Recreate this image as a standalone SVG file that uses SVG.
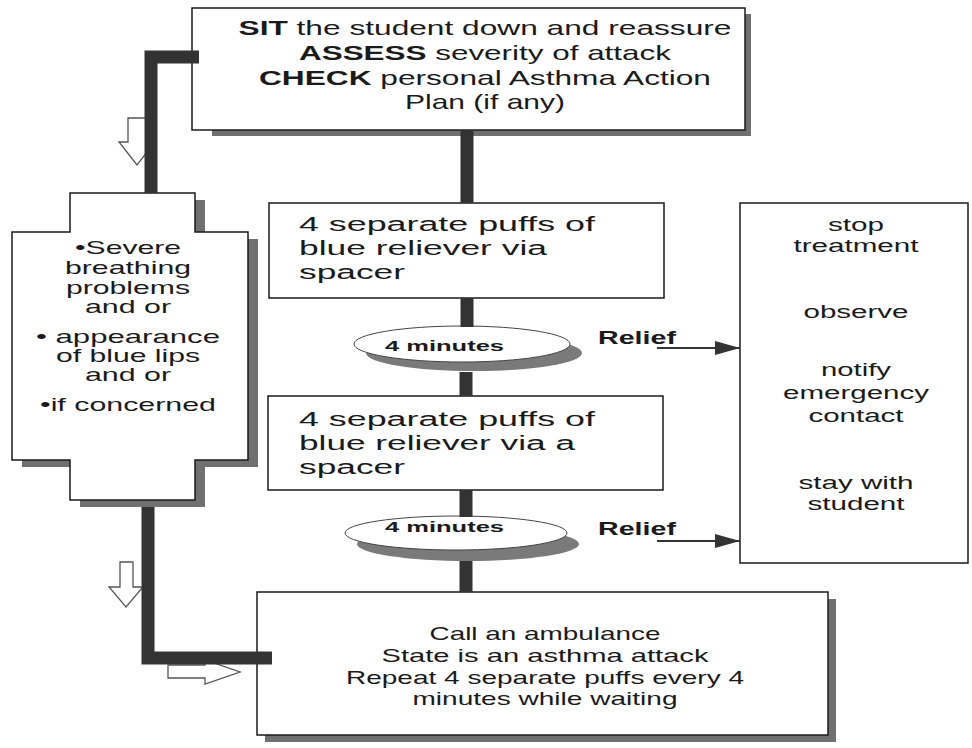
<svg xmlns="http://www.w3.org/2000/svg" width="972" height="748" viewBox="0 0 972 748">
<defs>
<style>
.box{fill:#fff;stroke:#1a1a1a;stroke-width:1.5}
.shadow{fill:#707070}
.t{font-family:"Liberation Sans",Arial,sans-serif;fill:#1a1a1a}
.c{text-anchor:middle}
.b{font-weight:bold}
.bar{fill:none;stroke:#333;stroke-width:13}
.hollow{fill:#fff;stroke:#555;stroke-width:1.3}
.relief{stroke:#333;stroke-width:2;fill:none}
.oval{fill:#fff;stroke:#444;stroke-width:1}
.oshadow{fill:#7a7a7a}
</style>
<marker id="ah" markerUnits="userSpaceOnUse" markerWidth="26" markerHeight="16" refX="25" refY="8" orient="auto">
<path d="M0,1 L25,8 L0,15 Z" fill="#333"/>
</marker>
</defs>
<rect width="972" height="748" fill="#fff"/>

<g id="start">
<rect class="shadow" x="212" y="14" width="539" height="122"/>
<rect class="box" x="192" y="8" width="553" height="122"/>
<text class="t c" x="485" y="35" font-size="21" textLength="493" lengthAdjust="spacingAndGlyphs"><tspan class="b">SIT</tspan> the student down and reassure</text>
<text class="t c" x="485" y="60" font-size="21" textLength="372" lengthAdjust="spacingAndGlyphs"><tspan class="b">ASSESS</tspan> severity of attack</text>
<text class="t c" x="485" y="85" font-size="21" textLength="452" lengthAdjust="spacingAndGlyphs"><tspan class="b">CHECK</tspan> personal Asthma Action</text>
<text class="t c" x="485" y="109" font-size="21" textLength="160" lengthAdjust="spacingAndGlyphs">Plan (if any)</text>
</g>

<g id="severe">
<path class="shadow" d="M80 200 H205 V239 H258 V467 H205 V507 H80 V467 H22 V239 H80 Z"/>
<path class="box" d="M70 193 H195 V232 H248 V460 H195 V500 H70 V460 H12 V232 H70 Z"/>
<text class="t c" x="128" y="254" font-size="19" textLength="106" lengthAdjust="spacingAndGlyphs">•Severe</text>
<text class="t c" x="128" y="274" font-size="19" textLength="126" lengthAdjust="spacingAndGlyphs">breathing</text>
<text class="t c" x="128" y="294" font-size="19" textLength="124" lengthAdjust="spacingAndGlyphs">problems</text>
<text class="t c" x="128" y="313" font-size="19" textLength="86" lengthAdjust="spacingAndGlyphs">and or</text>
<text class="t c" x="128" y="343" font-size="19" textLength="184" lengthAdjust="spacingAndGlyphs">• appearance</text>
<text class="t c" x="128" y="362" font-size="19" textLength="144" lengthAdjust="spacingAndGlyphs">of blue lips</text>
<text class="t c" x="128" y="381" font-size="19" textLength="86" lengthAdjust="spacingAndGlyphs">and or</text>
<text class="t c" x="128" y="411" font-size="19" textLength="176" lengthAdjust="spacingAndGlyphs">•if concerned</text>
</g>

<g id="puffs1">
<rect class="box" x="269" y="203" width="395" height="95"/>
<text class="t" x="299" y="231" font-size="20" textLength="296" lengthAdjust="spacingAndGlyphs">4 separate puffs of</text>
<text class="t" x="299" y="255" font-size="20" textLength="248" lengthAdjust="spacingAndGlyphs">blue reliever via</text>
<text class="t" x="299" y="279" font-size="20" textLength="106" lengthAdjust="spacingAndGlyphs">spacer</text>
</g>

<g id="wait1">
<ellipse class="oshadow" cx="474" cy="353" rx="108" ry="18"/>
<ellipse class="oval" cx="462" cy="344" rx="108" ry="18"/>
<text class="t b" x="385" y="351" font-size="15" textLength="119" lengthAdjust="spacingAndGlyphs">4 minutes</text>
</g>

<g id="puffs2">
<rect class="box" x="268" y="396" width="395" height="94"/>
<text class="t" x="299" y="426" font-size="20" textLength="296" lengthAdjust="spacingAndGlyphs">4 separate puffs of</text>
<text class="t" x="299" y="450" font-size="20" textLength="276" lengthAdjust="spacingAndGlyphs">blue reliever via a</text>
<text class="t" x="299" y="474" font-size="20" textLength="106" lengthAdjust="spacingAndGlyphs">spacer</text>
</g>

<g id="wait2">
<ellipse class="oshadow" cx="468" cy="544" rx="111" ry="17"/>
<ellipse class="oval" cx="456" cy="533" rx="111" ry="17"/>
<text class="t b" x="385" y="532" font-size="15" textLength="119" lengthAdjust="spacingAndGlyphs">4 minutes</text>
</g>

<g id="relief-actions">
<rect class="box" x="740" y="203" width="228" height="360"/>
<text class="t c" x="856" y="231" font-size="18" textLength="56" lengthAdjust="spacingAndGlyphs">stop</text>
<text class="t c" x="856" y="252" font-size="18" textLength="125" lengthAdjust="spacingAndGlyphs">treatment</text>
<text class="t c" x="856" y="318" font-size="18" textLength="105" lengthAdjust="spacingAndGlyphs">observe</text>
<text class="t c" x="856" y="376" font-size="18" textLength="70" lengthAdjust="spacingAndGlyphs">notify</text>
<text class="t c" x="856" y="399" font-size="18" textLength="146" lengthAdjust="spacingAndGlyphs">emergency</text>
<text class="t c" x="856" y="422" font-size="18" textLength="95" lengthAdjust="spacingAndGlyphs">contact</text>
<text class="t c" x="856" y="489" font-size="18" textLength="115" lengthAdjust="spacingAndGlyphs">stay with</text>
<text class="t c" x="856" y="510" font-size="18" textLength="97" lengthAdjust="spacingAndGlyphs">student</text>
</g>

<g id="ambulance">
<rect class="shadow" x="265" y="599" width="571" height="143"/>
<rect class="box" x="257" y="592" width="571" height="143"/>
<text class="t c" x="545" y="640" font-size="19" textLength="231" lengthAdjust="spacingAndGlyphs">Call an ambulance</text>
<text class="t c" x="545" y="662" font-size="19" textLength="327" lengthAdjust="spacingAndGlyphs">State is an asthma attack</text>
<text class="t c" x="545" y="684" font-size="19" textLength="398" lengthAdjust="spacingAndGlyphs">Repeat 4 separate puffs every 4</text>
<text class="t c" x="545" y="705" font-size="19" textLength="265" lengthAdjust="spacingAndGlyphs">minutes while waiting</text>
</g>

<g id="connectors">
<polygon class="hollow" points="128,118 146,118 146,142 155,142 137,165 119,142 128,142"/>
<polygon class="hollow" points="120,562 133,562 133,587 143,587 126,607 109,587 120,587"/>
<polygon class="hollow" points="168,665 205,665 205,660 240,672 205,684 205,678 168,678"/>
<path class="bar" d="M199 57 H151 V193"/>
<path class="bar" d="M148 507 V658 H272"/>
<path class="bar" d="M467 130 V203"/>
<path class="bar" d="M467 298 V327"/>
<path class="bar" d="M466 372 V396"/>
<path class="bar" d="M466 490 V517"/>
<path class="bar" d="M466 561 V592"/>
<text class="t b" x="598" y="344" font-size="19" textLength="78" lengthAdjust="spacingAndGlyphs">Relief</text>
<line class="relief" x1="657" y1="348" x2="740" y2="348" marker-end="url(#ah)"/>
<text class="t b" x="598" y="535" font-size="19" textLength="78" lengthAdjust="spacingAndGlyphs">Relief</text>
<line class="relief" x1="657" y1="541" x2="740" y2="541" marker-end="url(#ah)"/>
</g>
</svg>
